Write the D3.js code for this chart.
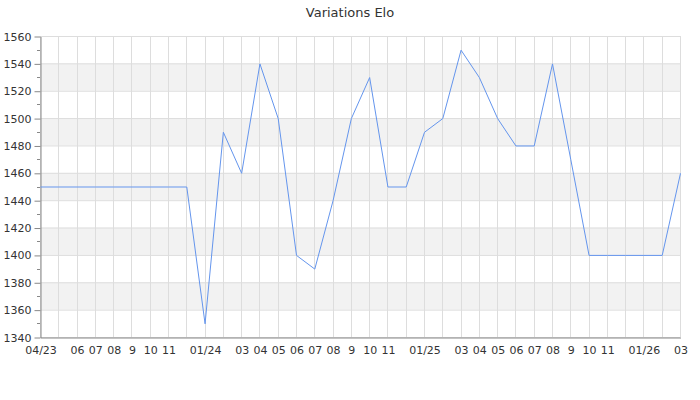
<!DOCTYPE html>
<html><head><meta charset="utf-8">
<script src="https://cdn.jsdelivr.net/npm/d3@7"></script>
<style>body{margin:0;background:#fff}svg{display:block;font-family:"DejaVu Sans",sans-serif}</style>
</head><body><svg id="c" width="700" height="400"></svg>
<script>
const months = ["2023-04","2023-05","2023-06","2023-07","2023-08","2023-09","2023-10","2023-11","2023-12",
"2024-01","2024-02","2024-03","2024-04","2024-05","2024-06","2024-07","2024-08","2024-09","2024-10","2024-11","2024-12",
"2025-01","2025-02","2025-03","2025-04","2025-05","2025-06","2025-07","2025-08","2025-09","2025-10","2025-11","2025-12",
"2026-01","2026-02","2026-03"];
const elo = [1450,1450,1450,1450,1450,1450,1450,1450,1450,
1350,1490,1460,1540,1500,1400,1390,1440,1500,1530,1450,1450,
1490,1500,1550,1530,1500,1480,1480,1540,1470,1400,1400,1400,
1400,1400,1460];
const tickLabels = ["04/23","","06","07","08","9","10","11","","01/24","","03","04","05","06","07","08","9","10","11","","01/25","","03","04","05","06","07","08","9","10","11","","01/26","","03"];
const yTicks = [1340,1360,1380,1400,1420,1440,1460,1480,1500,1520,1540,1560];
const bands = [[1360,1380],[1400,1420],[1440,1460],[1480,1500],[1520,1540]];
const title = "Variations Elo";

const svg = d3.select("#c");
const L=40,R=680,T=36,B=337;
const x = d3.scalePoint().domain(months).range([L,R]);
const y = d3.scaleLinear().domain([1340,1560]).range([B,T]);

svg.append("text").attr("x",350).attr("y",17).attr("text-anchor","middle")
  .attr("font-size",13).attr("fill","#333").text(title);

svg.append("g").selectAll("rect").data(bands).join("rect")
  .attr("x",L).attr("width",R-L).attr("y",d=>y(d[1])).attr("height",d=>y(d[0])-y(d[1]))
  .attr("fill","#f2f2f2");

svg.append("g").selectAll("line").data(yTicks).join("line")
  .attr("x1",L).attr("x2",R).attr("y1",d=>y(d)+0.5).attr("y2",d=>y(d)+0.5)
  .attr("stroke","#dddddd");
svg.append("g").selectAll("line").data(months).join("line")
  .attr("x1",d=>Math.round(x(d))+0.5).attr("x2",d=>Math.round(x(d))+0.5).attr("y1",T).attr("y2",B)
  .attr("stroke","#dddddd");

// y axis
const ya = svg.append("g").attr("transform",`translate(${L+0.5},0.5)`)
  .call(d3.axisLeft(y).tickValues(yTicks).tickSize(6).tickSizeOuter(0).tickFormat(d3.format("d")));
ya.select(".domain").attr("stroke","#888");
ya.selectAll(".tick line").attr("stroke","#888");
ya.selectAll("text").attr("font-size",11).attr("fill","#333").attr("font-family","DejaVu Sans").attr("x",-9);
const minor = d3.range(1350,1560,20);
svg.append("g").selectAll("line").data(minor).join("line")
  .attr("x1",L-3).attr("x2",L).attr("y1",d=>Math.round(y(d))+0.5).attr("y2",d=>Math.round(y(d))+0.5)
  .attr("stroke","#888");

// x axis
const xa = svg.append("g").attr("transform",`translate(0.5,${B+0.5})`)
  .call(d3.axisBottom(x).tickSize(0).tickPadding(9).tickFormat((d,i)=>tickLabels[i]));
xa.select(".domain").attr("stroke","#888");
xa.selectAll("text").attr("font-size",11).attr("fill","#333").attr("font-family","DejaVu Sans");

svg.append("path").datum(elo).attr("transform","translate(0.5,0.5)")
  .attr("d",d3.line().x((d,i)=>x(months[i])).y(d=>y(d)))
  .attr("fill","none").attr("stroke","#6495ed").attr("stroke-width",1);
</script></body></html>
